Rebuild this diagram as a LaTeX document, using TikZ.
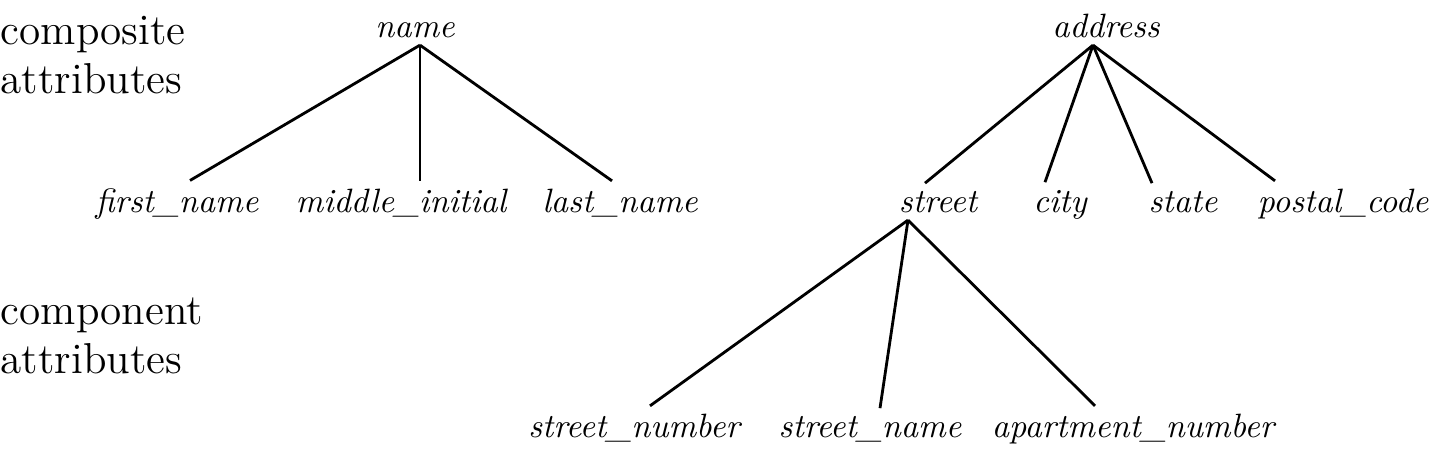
\documentclass[tikz,border=0pt]{standalone}
\usetikzlibrary{calc}

\begin{document}
\begin{tikzpicture}[x=0.01cm,y=-0.01cm,
    attr/.style={font=\fontsize{9.6}{12}\itshape, anchor=base, inner sep=2pt},
    kind/.style={font=\fontsize{12.3}{13.8}\selectfont, align=left, anchor=base west, inner sep=0pt},
    link/.style={line width=0.8pt}]
        \useasboundingbox (0,0) rectangle (1430,450);

        % row labels
        \node[kind] (composite) at (0,93) {composite\\attributes};
        \node[kind] (component) at (0,373) {component\\attributes};

        % name
        \node[attr] (name) at (415,37) {name};
        \node[attr] (first) at (177,212) {first\_name};
        \node[attr] (middle) at (401,212) {middle\_initial};
        \node[attr] (last) at (620,212) {last\_name};

        % address
        \node[attr] (address) at (1106,37) {address};
        \node[attr] (street) at (938,212) {street};
        \node[attr] (city) at (1060,212) {city};
        \node[attr] (state) at (1183,212) {state};
        \node[attr] (postal) at (1343,212) {postal\_code};

        % street
        \node[attr] (number) at (634,437) {street\_number};
        \node[attr] (sname) at (870,437) {street\_name};
        \node[attr] (apartment) at (1133,437) {apartment\_number};

        \coordinate (name-root) at ($(name.south)+(5,0)$);
        \draw[link] (name-root) -- ($(first.north)+(13,0)$);
        \draw[link] (name-root) -- (name-root |- middle.north);
        \draw[link] (name-root) -- ($(last.north)+(-8,0)$);

        \coordinate (address-root) at ($(address.south)+(-13,0)$);
        \draw[link] (address-root) -- ($(street.north)+(-13,0)$);
        \draw[link] (address-root) -- ($(city.north)+(-15,0)$);
        \draw[link] (address-root) -- ($(state.north)+(-31,0)$);
        \draw[link] (address-root) -- ($(postal.north)+(-68,0)$);

        \coordinate (street-root) at ($(street.south)+(-30,0)$);
        \draw[link] (street-root) -- ($(number.north)+(16,0)$);
        \draw[link] (street-root) -- ($(sname.north)+(10,0)$);
        \draw[link] (street-root) -- ($(apartment.north)+(-38,0)$);
\end{tikzpicture}
\end{document}
